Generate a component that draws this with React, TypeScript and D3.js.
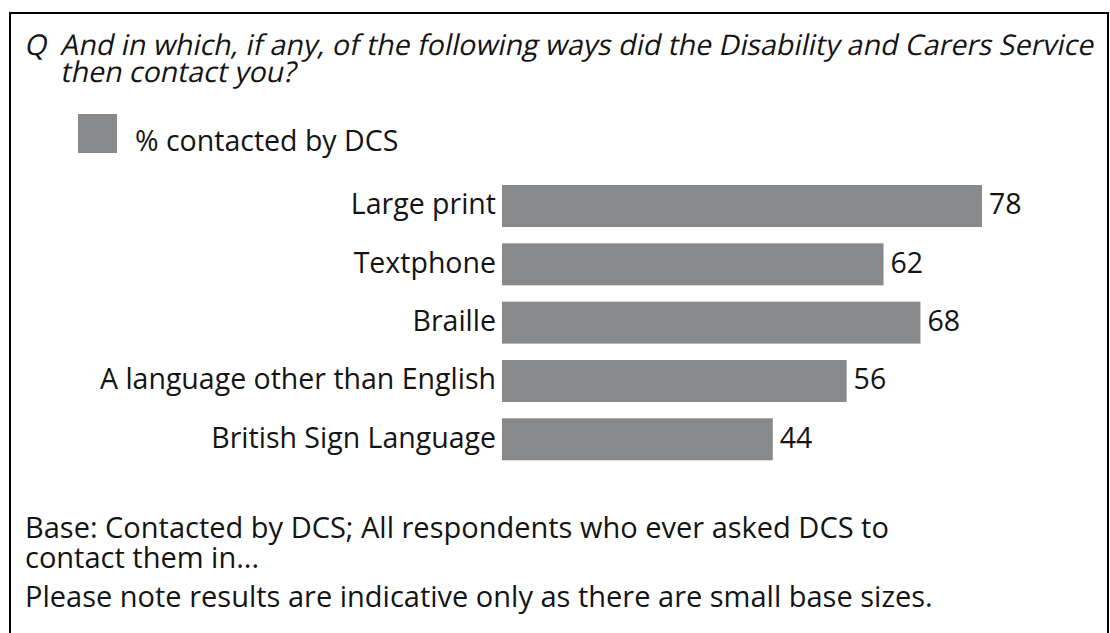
import React from "react";
import * as d3 from "d3";

const categories: string[] = [
  "Large print",
  "Textphone",
  "Braille",
  "A language other than English",
  "British Sign Language",
];
const values: number[] = [78, 62, 68, 56, 44];
const seriesName = "% contacted by DCS";
const questionMark = "Q";
const questionLines: string[] = [
  "And in which, if any, of the following ways did the Disability and Carers Service",
  "then contact you?",
];
const baseLines: string[] = [
  "Base: Contacted by DCS; All respondents who ever asked DCS to",
  "contact them in...",
];
const noteLine = "Please note results are indicative only as there are small base sizes.";

const W = 1110;
const H = 633;
const BAR = "#88898b";
const INK = "#141414";
const FONT = "'Open Sans', 'Noto Sans', sans-serif";
const FS = 28.5;
const SKEW = -12;

export default function App() {
  const x = d3.scaleLinear().domain([0, d3.max(values) as number]).range([502, 982]);
  const y = d3
    .scaleBand<string>()
    .domain(categories)
    .range([185, 460.3])
    .paddingInner(0.28)
    .paddingOuter(0);
  const bw = y.bandwidth();

  return (
    <svg
      width={W}
      height={H}
      viewBox={`0 0 ${W} ${H}`}
      style={{ position: "absolute", left: 0, top: 0, background: "#fff" }}
      fontFamily={FONT}
    >
      <rect x={0} y={0} width={W} height={H} fill="#fff" />
      <path d={`M10,${H + 5} L10,13 L1108,13 L1108,${H + 5}`} fill="none" stroke="#000" strokeWidth={2} />

      {/* Question (oblique) */}
      <g fontSize={FS} fill={INK}>
        <text transform={`translate(24,55) skewX(${SKEW})`}>{questionMark}</text>
        {questionLines.map((l, i) => (
          <text key={i} transform={`translate(60,${55 + i * 27}) skewX(${SKEW})`}>
            {l}
          </text>
        ))}
      </g>

      {/* Legend */}
      <rect x={78} y={114} width={39} height={39} fill={BAR} />
      <text x={135} y={150.5} fontSize={FS} fill={INK}>
        {seriesName}
      </text>

      {/* Bars */}
      <g>
        {categories.map((c, i) => (
          <g key={c}>
            <rect x={x(0)} y={y(c)} width={x(values[i]) - x(0)} height={bw} fill={BAR} />
            <text
              x={x(0) - 6}
              y={(y(c) as number) + bw / 2 + 8.5}
              textAnchor="end"
              fontSize={FS}
              fill={INK}
            >
              {c}
            </text>
            <text
              x={x(values[i]) + 7}
              y={(y(c) as number) + bw / 2 + 8.5}
              fontSize={FS}
              fill={INK}
            >
              {values[i]}
            </text>
          </g>
        ))}
      </g>

      {/* Base notes */}
      <g fontSize={29} fill={INK}>
        {baseLines.map((l, i) => (
          <text key={i} x={25} y={538 + i * 30}>
            {l}
          </text>
        ))}
        <text x={25} y={607}>
          {noteLine}
        </text>
      </g>
    </svg>
  );
}
